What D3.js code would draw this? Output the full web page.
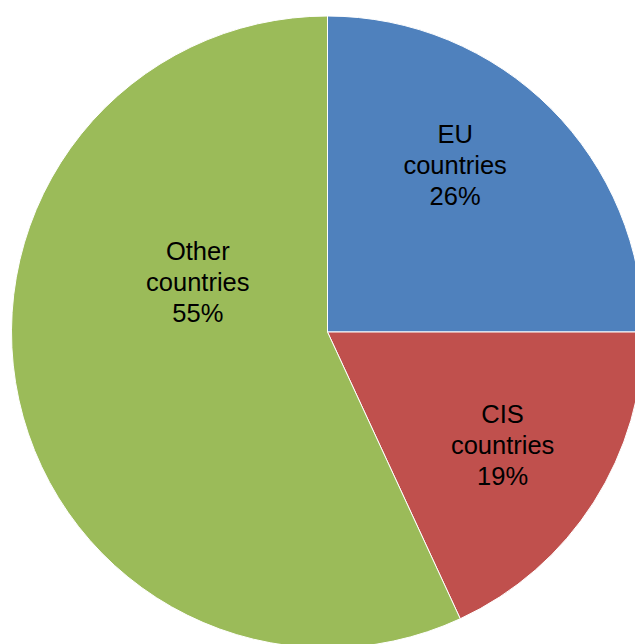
<!DOCTYPE html>
<html>
<head>
<meta charset="utf-8">
<script src="https://cdn.jsdelivr.net/npm/d3@7"></script>
<style>
  body { margin: 0; background: #fff; }
  svg { display: block; }
</style>
</head>
<body>
<div id="chart"></div>
<script>
// slice names and shares as drawn (label text keeps the rounded figures shown)
const categories = ['EU countries', 'CIS countries', 'Other countries']
const shares = [25, 18.1, 56.9]
const pctLabels = ['26%', '19%', '55%']
const colors = ['#4F81BD', '#C0504D', '#9BBB59']

const width = 635
const height = 644
const cx = 327.5
const cy = 332
const radius = 316

// where each label sits: [angle in degrees from 12 o'clock, fraction of radius]
const labelPlace = [[37.4, 0.665], [122.9, 0.66], [291.1, 0.44]]

const svg = d3.select('#chart').append('svg')
  .attr('width', width)
  .attr('height', height)

const g = svg.append('g').attr('transform', `translate(${cx},${cy})`)

const pie = d3.pie().sort(null).value(d => d.v)
const arc = d3.arc().innerRadius(0).outerRadius(radius)

const data = categories.map((c, i) => ({ name: c, v: shares[i], pct: pctLabels[i], color: colors[i] }))

g.selectAll('path')
  .data(pie(data))
  .enter()
  .append('path')
  .attr('d', arc)
  .attr('fill', d => d.data.color)
  .attr('stroke', '#ffffff')
  .attr('stroke-width', 1)

const labels = g.selectAll('text.lbl')
  .data(data)
  .enter()
  .append('text')
  .attr('class', 'lbl')
  .attr('text-anchor', 'middle')
  .attr('font-family', '"Liberation Sans", Arial, sans-serif')
  .attr('font-size', 25.5)
  .attr('fill', '#000')
  .attr('transform', (d, i) => {
    const a = labelPlace[i][0] * Math.PI / 180
    const r = labelPlace[i][1] * radius
    return `translate(${r * Math.sin(a)},${-r * Math.cos(a)})`
  })

labels.each(function (d) {
  const words = d.name.split(' ')
  const lines = [words[0], words.slice(1).join(' '), d.pct]
  const t = d3.select(this)
  lines.forEach((l, k) => {
    t.append('tspan')
      .attr('x', 0)
      .attr('y', (k - 1) * 31 + 9)
      .text(l)
  })
})
</script>
</body>
</html>
